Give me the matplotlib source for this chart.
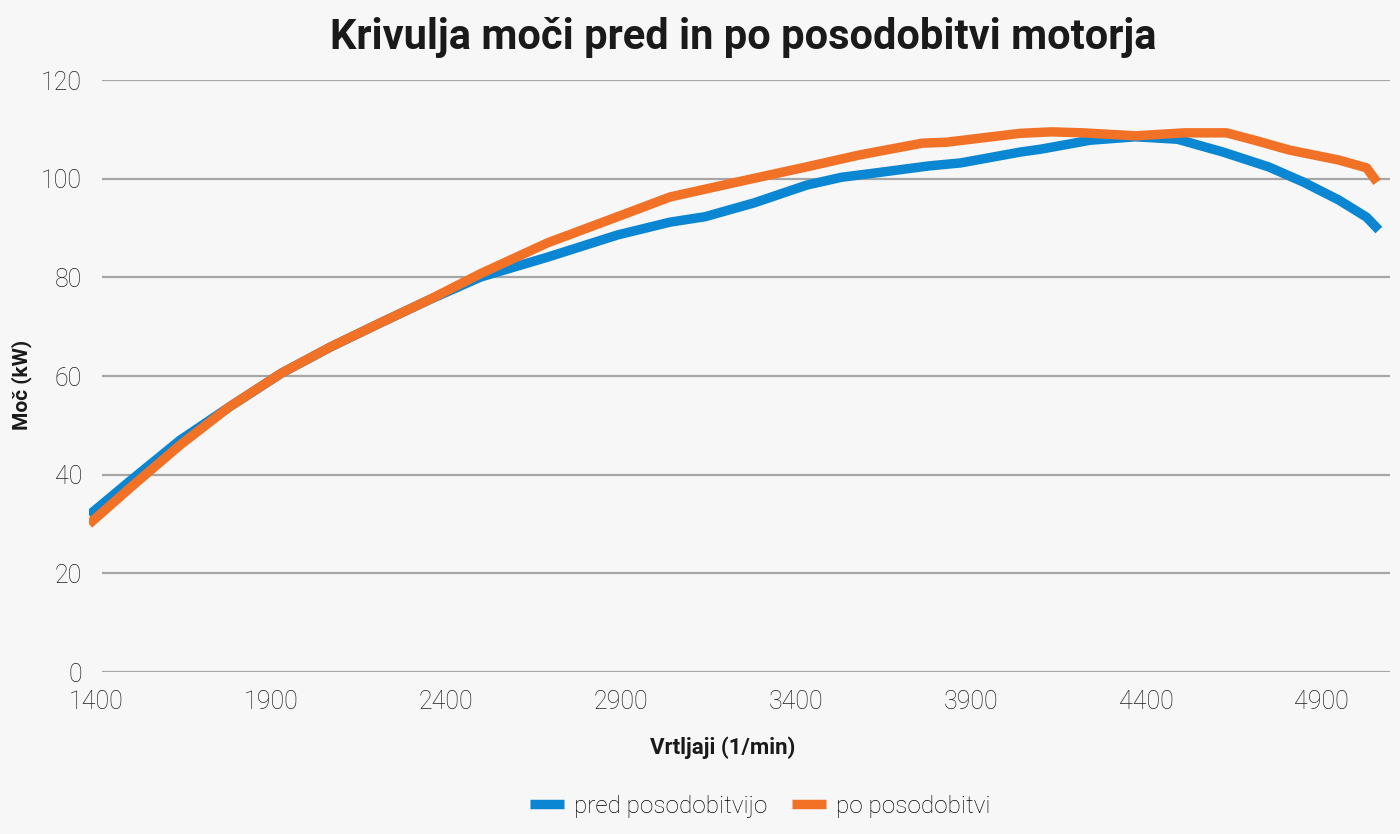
import matplotlib
matplotlib.use("Agg")
import matplotlib.pyplot as plt

# Power curve before and after the engine upgrade
rpm_pred = [1380, 1500, 1640, 1780, 1930, 2070, 2210, 2350, 2500, 2690, 2890,
            3040, 3140, 3280, 3430, 3530, 3630, 3780, 3870, 4040, 4100, 4240,
            4370, 4490, 4620, 4750, 4850, 4950, 5030, 5065]
kw_pred = [31.8, 38.9, 47.0, 53.7, 60.6, 65.9, 70.7, 75.4, 80.1, 84.1, 88.6,
           91.2, 92.3, 95.1, 98.7, 100.3, 101.2, 102.6, 103.2, 105.4, 106.0, 107.8,
           108.5, 108.0, 105.4, 102.4, 99.3, 95.7, 92.2, 89.6]

rpm_po = [1380, 1500, 1640, 1780, 1930, 2070, 2210, 2350, 2500, 2690, 2890,
          3040, 3230, 3430, 3580, 3760, 3830, 4040, 4130, 4220, 4370, 4510,
          4630, 4710, 4810, 4950, 5030, 5060]
kw_po = [30.0, 37.5, 46.0, 53.7, 60.6, 65.9, 70.7, 75.4, 80.8, 87.0, 92.3,
         96.3, 99.3, 102.4, 104.8, 107.2, 107.4, 109.2, 109.5, 109.3, 108.7, 109.3,
         109.3, 107.8, 105.8, 103.8, 102.2, 99.3]

x_ticks = [1400, 1900, 2400, 2900, 3400, 3900, 4400, 4900]
y_ticks = [0, 20, 40, 60, 80, 100, 120]

BLUE = "#0a86d2"
ORANGE = "#f17126"
BG = "#f7f7f7"
FONT = "Roboto"

fig = plt.figure(figsize=(14, 8.34), dpi=100, facecolor=BG)
ax = fig.add_axes([0.0636, 0.1942, 0.9293, 0.7098], facecolor=BG)

ax.set_xlim(1380, 5097)
ax.set_ylim(0, 120)

# horizontal grid lines
ax.hlines(y_ticks, 1417, 5097, colors="#a6a6a6", linewidth=1.6, zorder=1)

ax.plot(rpm_pred, kw_pred, color=BLUE, linewidth=6.8, solid_capstyle="butt",
        solid_joinstyle="round", label="pred posodobitvijo", zorder=3)
ax.plot(rpm_po, kw_po, color=ORANGE, linewidth=6.8, solid_capstyle="butt",
        solid_joinstyle="round", label="po posodobitvi", zorder=4)

for s in ax.spines.values():
    s.set_visible(False)

ax.set_xticks(x_ticks)
ax.set_yticks(y_ticks)
ax.tick_params(length=0)
ax.tick_params(axis="x", pad=13)
ax.tick_params(axis="y", pad=5)
for lab in ax.get_xticklabels() + ax.get_yticklabels():
    lab.set_fontfamily(FONT)
    lab.set_fontweight("light")
    lab.set_fontsize(18)
    lab.set_color("#1e1e1e")

fig.text(0.531, 1 - 38 / 834, "Krivulja moči pred in po posodobitvi motorja",
         ha="center", va="center", fontsize=30, fontweight="bold",
         family=FONT, color="#1a1a1a")
fig.text(0.516, 1 - 748 / 834, "Vrtljaji (1/min)", ha="center", va="center",
         fontsize=16, fontweight="bold", family=FONT, color="#1a1a1a")
fig.text(22 / 1400, 1 - 385 / 834, "Moč (kW)", ha="center", va="center",
         rotation=90, fontsize=15, fontweight="bold", family=FONT, color="#1a1a1a")

fig.legend(loc="center", bbox_to_anchor=(0.543, 1 - 806 / 834), ncol=2,
           frameon=False, handlelength=1.4, handletextpad=0.4, columnspacing=1.0,
           prop={"family": FONT, "weight": "light", "size": 17.5})

fig.savefig("out.png", dpi=100, facecolor=BG)
